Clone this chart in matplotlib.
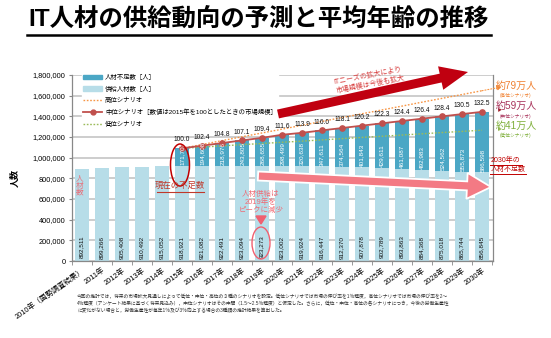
import matplotlib
matplotlib.use("Agg")
import matplotlib.pyplot as plt
from matplotlib.patches import Ellipse, FancyArrow, Polygon
from matplotlib.lines import Line2D
from matplotlib.patches import Patch
import numpy as np

plt.rcParams['font.family'] = ['Liberation Sans', 'Noto Sans CJK JP', 'DejaVu Sans']

# ---- data -------------------------------------------------------------
years = ['2010年（国勢調査結果）', '2011年', '2012年', '2013年', '2014年', '2015年',
         '2016年', '2017年', '2018年', '2019年', '2020年', '2021年', '2022年',
         '2023年', '2024年', '2025年', '2026年', '2027年', '2028年', '2029年', '2030年']

supply = [892511, 899266, 905408, 910492, 915052, 918921, 921082, 922491, 923094,
          923273, 923002, 919924, 916447, 912370, 907878, 902789, 893863, 884368,
          875018, 865744, 856845]

# shortage (middle scenario) from 2015 onward
shortage_start = 5
shortage = [171702, 194608, 218976, 243805, 268655, 298499, 320638, 347611,
            374564, 401843, 429611, 461087, 492983, 524562, 555873, 586598]

# market size index (2015 = 100)
market_index = [100.0, 102.4, 104.8, 107.1, 109.4, 111.6, 113.9, 116.0, 118.1,
                120.2, 122.3, 124.4, 126.4, 128.4, 130.5, 132.5]

# total demand under high / low scenarios (2015 onward)
high_demand = [1090623, 1127000, 1165000, 1202000, 1239000, 1276000, 1313000, 1351000,
               1388000, 1425000, 1462000, 1499000, 1537000, 1574000, 1611000, 1648000]
low_demand = [1090623, 1102000, 1114000, 1126000, 1137000, 1149000, 1160000, 1172000,
              1184000, 1196000, 1207000, 1219000, 1231000, 1243000, 1254000, 1266000]

C_SHORT = '#4BA7C5'
C_SUPPLY = '#B7DDE8'
C_MID = '#C0504D'
C_HIGH = '#F79646'
C_LOW = '#9BBB59'

W, H = 551, 338
fig = plt.figure(figsize=(W / 100, H / 100), dpi=100)
ax = fig.add_axes([72 / W, 1 - 261 / H, 421 / W, 186 / H])

x = np.arange(len(years))
xs = x[shortage_start:]
sup_s = np.array(supply[shortage_start:])
mid_total = sup_s + np.array(shortage)

ax.bar(x, supply, width=0.66, color=C_SUPPLY, zorder=2)
ax.bar(xs, shortage, bottom=sup_s, width=0.66, color=C_SHORT, zorder=2)

ax.plot(xs, high_demand, color=C_HIGH, lw=1.0, ls=(0, (1.2, 1.2)), zorder=3)
ax.plot(xs, low_demand, color=C_LOW, lw=1.0, ls=(0, (1.2, 1.2)), zorder=3)
ax.plot(xs, mid_total, color=C_MID, lw=1.3, marker='o', ms=3.8, zorder=4)

# arrow heads at the right end of the scenario lines
for series, col in ((high_demand, C_HIGH), (list(mid_total), '#A0202A'), (low_demand, C_LOW)):
    last, prev = series[-1], series[-2]
    ax.annotate('', xy=(21.0, last + (last - prev) * 1.0), xytext=(20.0, last),
                arrowprops=dict(arrowstyle='-|>', color=col, lw=0.01 if col != C_HIGH else 0.8,
                                ls=':', mutation_scale=7, shrinkA=0, shrinkB=0),
                annotation_clip=False, zorder=5)

# value labels
for i, v in enumerate(supply):
    ax.text(i, 135000, f'{v:,}', rotation=90, ha='center', va='center',
            fontsize=4.6, color='#111111', zorder=6)
for i, (b, v) in enumerate(zip(sup_s, shortage)):
    ax.text(xs[i], b + 6000, f'{v:,}', rotation=90, ha='center', va='bottom',
            fontsize=4.6, color='white', zorder=6)
for xi, yi, m in zip(xs, mid_total, market_index):
    ax.annotate(f'{m:.1f}', (xi, yi), xytext=(0, 3.5), textcoords='offset points',
                ha='center', va='bottom', fontsize=4.8, color='#111111', zorder=7)

# axes styling
ax.set_xlim(-0.45, 20.55)
ax.set_ylim(0, 1800000)
ax.set_yticks(np.arange(0, 1800001, 200000))
ax.yaxis.set_major_formatter(matplotlib.ticker.FuncFormatter(lambda v, p: f'{int(v):,}'))
ax.tick_params(axis='y', labelsize=5.3, length=2.5, color='#888888', pad=2)
ax.set_xticks(x)
ax.set_xticklabels(years, rotation=35, ha='right', rotation_mode='anchor', fontsize=5.3)
ax.tick_params(axis='x', length=0, pad=4)
ax.set_xticks(np.arange(-0.5, 21, 1), minor=True)
ax.tick_params(axis='x', which='minor', length=3, color='#888888')
ax.grid(axis='y', color='#C9C9C9', lw=1.3, zorder=0)
ax.set_axisbelow(True)
for s in ('left', 'bottom', 'right'):
    ax.spines[s].set_color('#888888')
    ax.spines[s].set_linewidth(0.9)
ax.spines['top'].set_visible(False)

handles = [Patch(color=C_SHORT), Patch(color=C_SUPPLY),
           Line2D([], [], color=C_HIGH, lw=1.0, ls=(0, (1.2, 1.2))),
           Line2D([], [], color=C_MID, lw=1.3, marker='o', ms=3.5),
           Line2D([], [], color=C_LOW, lw=1.0, ls=(0, (1.2, 1.2)))]
labels = ['人材不足数［人］', '供給人材数［人］', '高位シナリオ',
          '中位シナリオ［数値は2015年を100としたときの市場規模］', '低位シナリオ']
leg = ax.legend(handles, labels, loc='upper left', bbox_to_anchor=(79 / W, 1 - 70 / H),
                bbox_transform=fig.transFigure, fontsize=4.6, handlelength=3.0,
                handleheight=0.7, handletextpad=0.4, labelspacing=0.85, borderpad=0.15,
                frameon=True, fancybox=False, framealpha=1, edgecolor='white')
leg.set_zorder(5)

# ---- overlay in pixel coordinates for title and callouts ---------------
ov = fig.add_axes([0, 0, 1, 1], zorder=10)
ov.set_xlim(0, W)
ov.set_ylim(H, 0)
ov.axis('off')
ov.patch.set_visible(False)

ov.text(259, 20, 'IT人材の供給動向の予測と平均年齢の推移', fontsize=17.6, fontweight='bold',
        ha='center', va='center', color='black')
ov.plot([27, 491], [34.5, 34.5], color='black', lw=1.8)

ov.text(15, 178, '人数', fontsize=6.5, fontweight='bold', rotation=90, ha='center', va='center')

# market expansion arrow
ov.add_patch(FancyArrow(278, 114, 190, -42, width=9, head_width=24, head_length=28,
                        length_includes_head=True, color='#C00010', lw=0))
ov.text(368, 76, 'ITニーズの拡大により', fontsize=5, color='#D63A3A', rotation=11,
        ha='center', va='center')
ov.text(370, 85, '市場規模は今後も拡大', fontsize=5, color='#D63A3A', rotation=11,
        ha='center', va='center')

# supply decline arrow
ov.add_patch(FancyArrow(258, 176, 233, 11, width=9, head_width=26, head_length=24,
                        length_includes_head=True, facecolor='#F37A84', edgecolor='white', lw=1.3))

# current shortage callout
ov.add_patch(Ellipse((180, 165), 19, 42, fill=False, edgecolor='#C00000', lw=1.1))
ov.text(180, 186, '現在の不足数', fontsize=6, color='#C0392B', ha='center', va='center')
ov.plot([157, 204], [191.5, 191.5], color='#C0392B', lw=0.8)

# supply peak callout
ov.text(261, 202, '人材供給は\n2019年を\nピークに減少', fontsize=5.4, color='#F06A74',
        ha='center', va='center', linespacing=1.1)
ov.add_patch(Polygon([(256, 216), (266, 216), (261, 224)], closed=True, color='#F06070'))
ov.add_patch(Ellipse((261, 243), 18, 32, fill=False, edgecolor='#F06070', lw=1.0))

ov.text(80, 186, '人\n材\n数', fontsize=5.5, color='#E8707A', ha='center', va='center',
        linespacing=0.95)

# 2030 shortage by scenario
ov.text(516, 86, '約79万人', fontsize=7.2, color='#F08030', ha='center', va='center')
ov.text(516, 95, '(高位シナリオ)', fontsize=3.4, color='#F08030', ha='center', va='center')
ov.text(516, 106, '約59万人', fontsize=7.2, color='#A8325A', ha='center', va='center')
ov.text(516, 116, '(中位シナリオ)', fontsize=3.4, color='#A8325A', ha='center', va='center')
ov.text(516, 126, '約41万人', fontsize=7.2, color='#7FAF3A', ha='center', va='center')
ov.text(516, 135, '(低位シナリオ)', fontsize=3.4, color='#7FAF3A', ha='center', va='center')
ov.text(491, 160, '2030年の', fontsize=5, color='#C00000', ha='left', va='center')
ov.text(491, 169, '人材不足数', fontsize=5, color='#C00000', ha='left', va='center')
ov.plot([490, 522], [164.5, 164.5], color='#C00000', lw=0.7)
ov.plot([490, 526], [173.5, 173.5], color='#C00000', lw=0.7)

# footnote
notes = ['今回の推計では，将来の市場拡大見通しによって低位・中位・高位の３種のシナリオを設定。低位シナリオでは市場の伸び率を1％程度，高位シナリオでは市場の伸び率を2～',
         '4％程度（アンケート結果に基づく将来見込み），中位シナリオはその中間（1.5～2.5％程度）と仮定した。さらに，低位・中位・高位の各シナリオにつき，今後の労働生産性',
         'に変化がない場合と，労働生産性が毎年1％及び3％向上する場合の3種類の推計結果を算出した。']
for k, line in enumerate(notes):
    ov.text(77, 297 + k * 7, line, fontsize=3.45, color='#333333', ha='left', va='center')

fig.savefig('out.png', dpi=100)
